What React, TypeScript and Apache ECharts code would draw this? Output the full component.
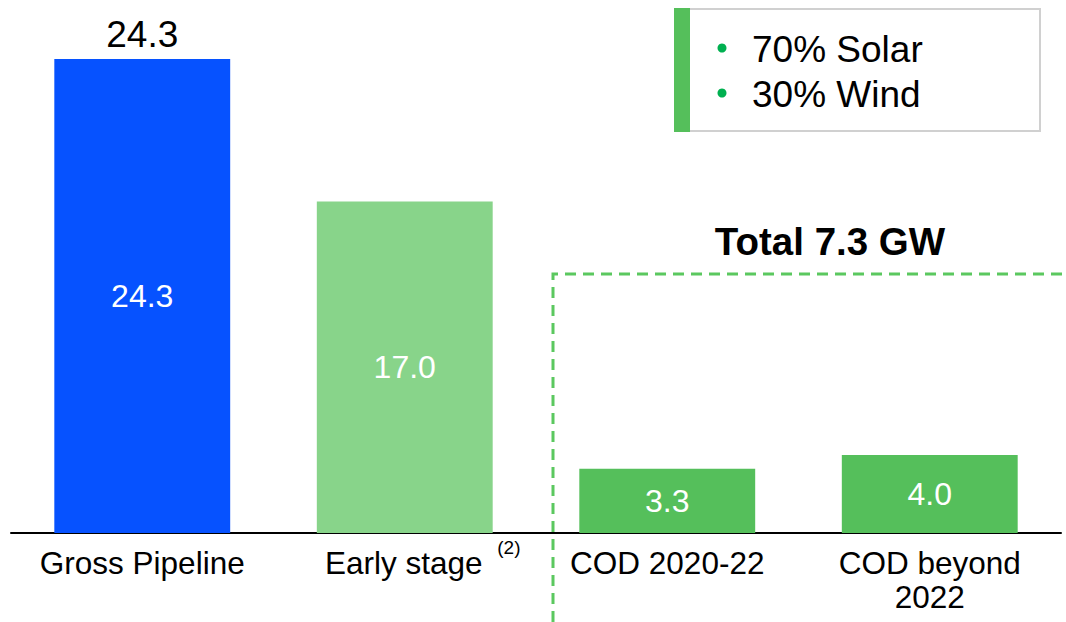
import React, { useEffect, useRef } from "react";
import * as echarts from "echarts";

const categories = ["Gross Pipeline", "Early stage", "COD 2020-22", "COD beyond\n2022"];
const values = [24.3, 17.0, 3.3, 4.0];
const barColors = ["#0652FF", "#88D48A", "#55BF5B", "#55BF5B"];
const topLabelValues = [24.3, null, null, null];
const totalLabel = "Total 7.3 GW";
const legendItems = ["70% Solar", "30% Wind"];
const footnote = "(2)";

export default function App() {
  const ref = useRef<HTMLDivElement>(null);
  useEffect(() => {
    if (!ref.current) return;
    const chart = echarts.init(ref.current, null, { renderer: "svg" });
    const font = "'Liberation Sans', Arial, sans-serif";
    chart.setOption({
      animation: false,
      textStyle: { fontFamily: font },
      grid: { left: 11, right: 5, top: 59, bottom: 89, containLabel: false },
      xAxis: {
        type: "category",
        data: categories,
        axisLine: { lineStyle: { color: "#000", width: 2 } },
        axisTick: { show: false },
        axisLabel: {
          color: "#000",
          fontSize: 31.5,
          lineHeight: 34,
          margin: 5,
          interval: 0,
          fontFamily: font,
          formatter: (v: string) => {
            const lines = v.split("\n");
            const first =
              lines[0] === "Early stage"
                ? `{pad|}{a|${lines[0]} }{sup|${footnote}}`
                : `{a|${lines[0]}}`;
            return [first, ...lines.slice(1).map((l) => `{b|${l}}`)].join("\n");
          },
          rich: {
            pad: { width: 36 },
            a: { fontSize: 31.5, color: "#000", fontFamily: font, lineHeight: 50 },
            b: { fontSize: 31.5, color: "#000", fontFamily: font, lineHeight: 18 },
            sup: { fontSize: 19, color: "#000", fontFamily: font, verticalAlign: "top", lineHeight: 19, padding: [0, 0, 0, 6] },
          },
        },
      },
      yAxis: { type: "value", min: 0, max: 24.3, show: false, splitLine: { show: false } },
      series: [
        {
          type: "bar",
          data: values.map((v, i) => ({ value: v, itemStyle: { color: barColors[i] } })),
          barCategoryGap: "33%",
          label: {
            show: true,
            position: "inside",
            color: "#fff",
            fontSize: 32,
            fontFamily: font,
            formatter: (p: any) => Number(p.value).toFixed(1),
          },
        },
        {
          type: "bar",
          data: topLabelValues.map((v) => (v === null ? "-" : v)),
          barGap: "-100%",
          barCategoryGap: "33%",
          itemStyle: { color: "rgba(0,0,0,0)" },
          silent: true,
          label: {
            show: true,
            position: "top",
            distance: 6,
            color: "#000",
            fontSize: 37,
            fontFamily: font,
            formatter: (p: any) => Number(p.value).toFixed(1),
          },
        },
      ],
      graphic: [
        {
          type: "polyline",
          shape: { points: [[553, 622], [553, 274], [1066, 274]] },
          style: { stroke: "#5BC85F", lineWidth: 3, fill: null, lineDash: [11, 7] },
        },
        {
          type: "text",
          x: 830,
          y: 241,
          style: {
            text: totalLabel,
            font: `bold 38.5px ${font}`,
            fill: "#000",
            textAlign: "center",
            textVerticalAlign: "middle",
          },
        },
        {
          type: "rect",
          shape: { x: 675, y: 9, width: 365, height: 122 },
          style: { fill: "#fff", stroke: "#D0D0D0", lineWidth: 2 },
        },
        {
          type: "rect",
          shape: { x: 674, y: 8, width: 16, height: 124 },
          style: { fill: "#55BF5B" },
        },
        ...legendItems.flatMap((t, i) => [
          {
            type: "circle",
            shape: { cx: 722, cy: 48 + i * 45, r: 4.5 },
            style: { fill: "#00B050" },
          },
          {
            type: "text",
            x: 752,
            y: 49 + i * 45,
            style: {
              text: t,
              font: `37px ${font}`,
              fill: "#000",
              textVerticalAlign: "middle",
            },
          },
        ]),
      ],
    });
    return () => chart.dispose();
  }, []);
  return (
    <div
      ref={ref}
      style={{ position: "fixed", left: 0, top: 0, width: 1066, height: 622, background: "#fff" }}
    />
  );
}
